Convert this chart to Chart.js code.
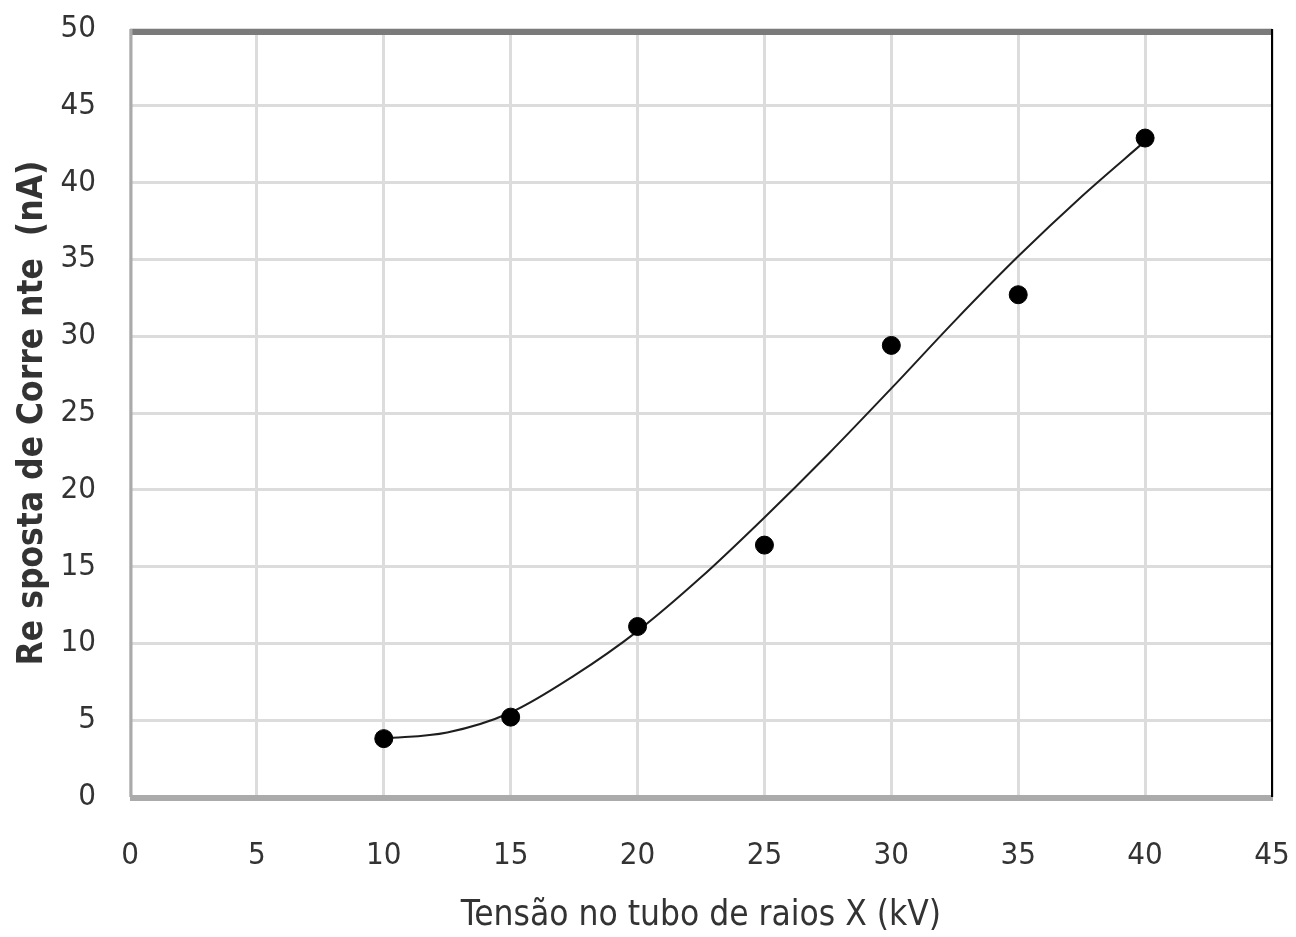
<!DOCTYPE html>
<html>
<head>
<meta charset="utf-8">
<script src="https://cdn.jsdelivr.net/npm/chart.js@4/dist/chart.umd.min.js"></script>
<style>
  body { margin: 0; background: #fff; }
  canvas { display: block; }
</style>
</head>
<body>
<canvas id="graf" width="1296" height="937"></canvas>
<script>
// medições
var tensao = [10, 15, 20, 25, 30, 35, 40];
var corrente = [3.8, 5.2, 11.1, 16.4, 29.4, 32.7, 42.9];

// linha de tendência
var tendX = [10, 12.5, 15, 17.5, 20, 22.5, 25, 27.5, 30, 32.5, 35, 37.5, 40];
var tendY = [3.8, 4.2, 5.5, 7.9, 10.8, 14.3, 18.2, 22.3, 26.6, 31.0, 35.2, 39.1, 42.7];

var xTicks = [0, 5, 10, 15, 20, 25, 30, 35, 40, 45];
var yTicks = [0, 5, 10, 15, 20, 25, 30, 35, 40, 45, 50];

var fonte = "'DejaVu Sans Condensed', 'Liberation Sans Narrow', sans-serif";

function semPadding(s) {
  s.paddingTop = 0; s.paddingBottom = 0; s.paddingLeft = 0; s.paddingRight = 0;
}

var moldura = {
  id: 'moldura',
  afterDraw: function (chart) {
    var c = chart.ctx, a = chart.chartArea;
    c.save();
    c.lineCap = 'butt';
    c.strokeStyle = '#7a7a7a'; c.lineWidth = 6;
    c.beginPath(); c.moveTo(a.left, a.top + 3); c.lineTo(a.right, a.top + 3); c.stroke();
    c.strokeStyle = '#ababab'; c.lineWidth = 6;
    c.beginPath(); c.moveTo(a.left, a.bottom + 1); c.lineTo(a.right + 1, a.bottom + 1); c.stroke();
    c.strokeStyle = '#aaaaaa'; c.lineWidth = 3;
    c.beginPath(); c.moveTo(a.left + 1, a.top); c.lineTo(a.left + 1, a.bottom); c.stroke();
    c.strokeStyle = '#000'; c.lineWidth = 2;
    c.beginPath(); c.moveTo(a.right, a.top); c.lineTo(a.right, a.bottom); c.stroke();
    c.restore();
  }
};

new Chart(document.getElementById('graf'), {
  type: 'scatter',
  data: {
    datasets: [{
      data: tensao.map(function (x, i) { return { x: x, y: corrente[i] }; }),
      backgroundColor: '#000',
      borderColor: '#000',
      pointRadius: 9,
      pointHoverRadius: 9,
      showLine: false,
      order: 0
    }, {
      data: tendX.map(function (x, i) { return { x: x, y: tendY[i] }; }),
      showLine: true,
      borderColor: '#1e1e1e',
      borderWidth: 2,
      pointRadius: 0,
      cubicInterpolationMode: 'monotone',
      fill: false,
      order: 1
    }]
  },
  options: {
    responsive: false,
    animation: false,
    layout: { autoPadding: false, padding: { left: 0, right: 24, top: 29, bottom: 0 } },
    plugins: { legend: { display: false }, tooltip: { enabled: false } },
    scales: {
      x: {
        type: 'linear', min: 0, max: 45,
        afterBuildTicks: function (s) { s.ticks = xTicks.map(function (v) { return { value: v }; }); },
        afterFit: function (s) { s.height = 140; semPadding(s); },
        grid: { color: '#dcdcdc', lineWidth: 3, drawTicks: false },
        border: { display: false },
        ticks: { color: '#333', padding: 40, font: { family: fonte, size: 31 } },
        title: {
          display: true, text: 'Tensão no tubo de raios X (kV)', color: '#333',
          padding: { top: 0, bottom: 0 }, font: { family: fonte, size: 35 }
        }
      },
      y: {
        type: 'linear', min: 0, max: 50,
        afterBuildTicks: function (s) { s.ticks = yTicks.map(function (v) { return { value: v }; }); },
        afterFit: function (s) { s.width = 130; semPadding(s); },
        grid: { color: '#dcdcdc', lineWidth: 3, drawTicks: false },
        border: { display: false },
        ticks: { color: '#333', padding: 34, font: { family: fonte, size: 31 } },
        title: {
          display: true, text: 'Re sposta de Corre nte  (nA)', color: '#333',
          padding: { top: 12, bottom: 0 }, font: { family: fonte, size: 35, weight: 'bold' }
        }
      }
    }
  },
  plugins: [moldura]
});
</script>
</body>
</html>
